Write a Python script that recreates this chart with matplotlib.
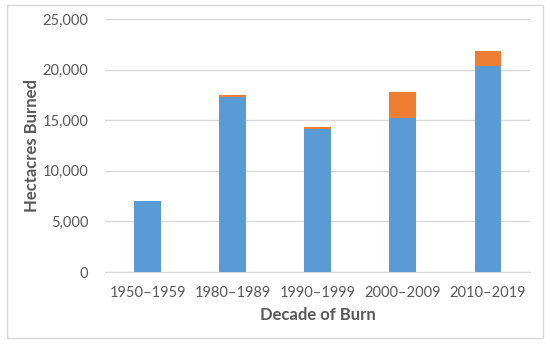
import matplotlib.pyplot as plt
import matplotlib.patches as patches
from matplotlib.ticker import FuncFormatter

plt.rcParams["font.family"] = ["Lato", "DejaVu Sans"]

decadas = ["1950–1959", "1980–1989", "1990–1999", "2000–2009", "2010–2019"]
serie_azul = [7000, 17300, 14150, 15220, 20330]
serie_laranja = [0, 150, 150, 2570, 1540]

fig = plt.figure(figsize=(5.5, 3.44), dpi=100)
ax = fig.add_axes([0.191, 0.209, 0.773, 0.736])

# Barras empilhadas
ax.bar(decadas, serie_azul, width=0.31, color="#5B9BD5", zorder=3)
ax.bar(decadas, serie_laranja, width=0.31, bottom=serie_azul, color="#ED7D31", zorder=3)

ax.set_ylim(0, 25000)
ax.set_xlim(-0.5, len(decadas) - 0.5)
ax.set_yticks(range(0, 25001, 5000))
ax.yaxis.set_major_formatter(FuncFormatter(lambda v, p: f"{int(v):,}"))
ax.grid(axis="y", color="#D9D9D9", linewidth=1, zorder=0)

for lado in ["top", "right", "left"]:
    ax.spines[lado].set_visible(False)
ax.spines["bottom"].set_color("#D9D9D9")
ax.tick_params(axis="both", length=0, labelsize=10.5, colors="#595959")
ax.tick_params(axis="y", pad=12)
ax.tick_params(axis="x", pad=10)

ax.set_xlabel("Decade of Burn", fontsize=12, fontweight="bold", color="#595959", labelpad=5)
ax.set_ylabel("Hectacres Burned", fontsize=12, fontweight="bold", color="#595959", labelpad=2)

# Moldura
fig.patches.append(patches.Rectangle((7 / 550, 6 / 344), 536 / 550, 333 / 344,
                                     transform=fig.transFigure, fill=False,
                                     edgecolor="#D9D9D9", linewidth=1))

fig.savefig("out.png", dpi=100)
